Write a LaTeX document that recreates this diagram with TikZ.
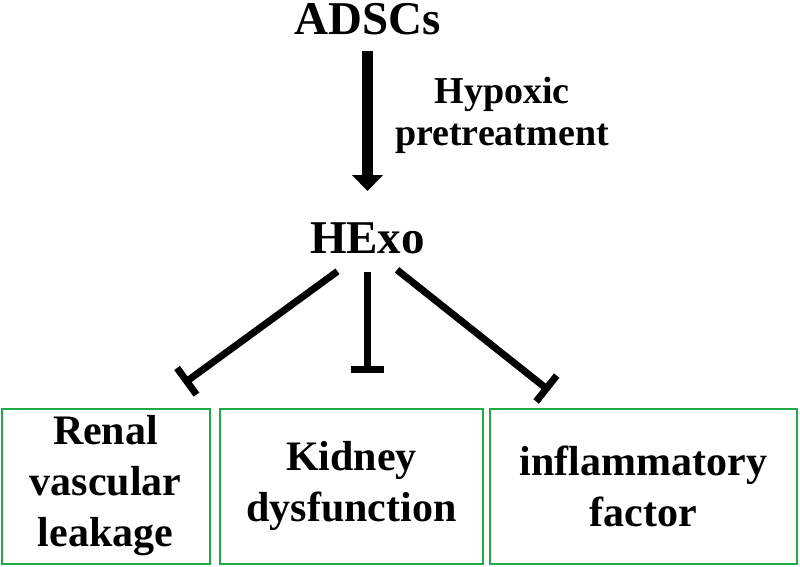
\documentclass[tikz,border=0pt]{standalone}
\usepackage{fontspec}
\setmainfont{Liberation Serif}
\usepackage{tikz}
\usetikzlibrary{arrows.meta,positioning,calc}
\definecolor{boxgreen}{RGB}{30,170,70}

\begin{document}
\begin{tikzpicture}[x=1pt, y=-1pt,
    title/.style={inner sep=0pt, anchor=base, font=\bfseries\fontsize{47}{56}\selectfont},
    note/.style={inner sep=0pt, anchor=north, align=center, font=\bfseries\fontsize{38}{42}\selectfont},
    effect/.style={rectangle, draw=boxgreen, line width=2pt, inner sep=0pt, minimum height=155pt, align=center, font=\bfseries\fontsize{42}{51}\selectfont},
    fat/.style={line width=11pt, -{Triangle[width=30pt, length=16pt]}},
    inhibit/.style={line width=7pt, -{Bar[width=33pt]}}
]
    \useasboundingbox (0,0) rectangle (800,567);

    % Source and product
    \node[title] (adscs) at (367.5,35) {ADSCs};
    \node[title] (hexo) at (367.5,253) {HExo};
    \node[note] (hypoxic) at (502,77) {Hypoxic\\pretreatment};

    % Effects
    \node[effect, minimum width=208pt] (box1) at (105.5,486) {Renal\\vascular\\leakage};
    \node[effect, minimum width=263pt] (box2) at (351.5,486) {Kidney\\dysfunction};
    \node[effect, minimum width=307pt] (box3) at (643.5,486) {inflammatory\\factor};

    \draw[fat, shorten <=15pt, shorten >=31pt] (adscs) -- (hexo);

    \draw[inhibit, shorten <=30pt, shorten >=41pt] (hexo.250) -- (box1.60);
    \draw[inhibit, shorten <=18pt, shorten >=35pt] (hexo.south) -- (hexo.south |- box2.north);
    \draw[inhibit, shorten <=26pt, shorten >=27pt] (hexo.300) -- (box3.133);
\end{tikzpicture}
\end{document}
